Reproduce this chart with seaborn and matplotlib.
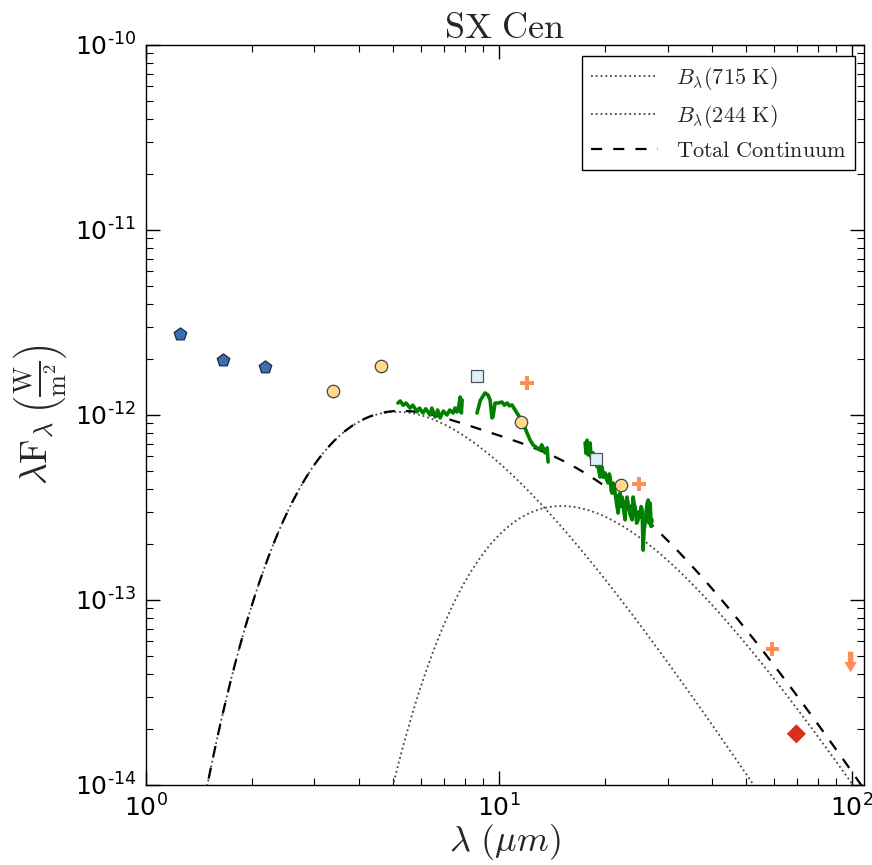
import numpy as np
import pandas as pd
import matplotlib
matplotlib.use("Agg")
import matplotlib.pyplot as plt
from matplotlib.path import Path
from matplotlib.font_manager import FontProperties
from matplotlib.ticker import FuncFormatter
import seaborn as sns

# ---------------- data ----------------
# 2MASS J, H, Ks
twomass_wl = [1.25, 1.65, 2.17]
twomass_flux = [2.74e-12, 1.98e-12, 1.82e-12]
# WISE W1-W4
wise_wl = [3.38, 4.63, 11.5, 22.2]
wise_flux = [1.35e-12, 1.84e-12, 9.2e-13, 4.19e-13]
# AKARI 9, 18
akari_wl = [8.67, 18.8]
akari_flux = [1.63e-12, 5.78e-13]
# IRAS 12, 25, 60 (detections) and 100 (upper limit)
iras_wl = [12.0, 24.9, 59.4]
iras_flux = [1.49e-12, 4.24e-13, 5.43e-14]
iras_ul_wl = [99.0]
iras_ul_flux = [4.62e-14]
# PACS 70
pacs_wl = [69.5]
pacs_flux = [1.89e-14]

# Spitzer IRS spectrum (three segments)
irs1_wl = [5.17, 5.25, 5.35, 5.45, 5.60, 5.70, 5.86, 5.95, 6.09, 6.20, 6.38, 6.45,
           6.59, 6.70, 6.81, 6.95, 7.12, 7.25, 7.41, 7.50, 7.60, 7.70, 7.76, 7.82, 7.86]
irs1_flux = [1.16e-12, 1.19e-12, 1.13e-12, 1.16e-12, 1.09e-12, 1.13e-12, 1.04e-12, 1.09e-12,
             1.025e-12, 1.08e-12, 1.0e-12, 1.09e-12, 9.76e-13, 1.064e-12, 9.64e-13, 1.05e-12,
             1.0e-12, 1.064e-12, 1.025e-12, 1.09e-12, 1.038e-12, 1.133e-12, 1.25e-12,
             1.025e-12, 1.205e-12]
irs2_wl = [8.66, 8.85, 9.12, 9.31, 9.43, 9.55, 9.61, 9.74, 9.93, 10.19, 10.35, 10.54,
           10.70, 10.88, 11.10, 11.47, 11.69, 12.00, 12.24, 12.48, 12.82, 13.06, 13.20,
           13.33, 13.50, 13.68, 13.77]
irs2_flux = [1.025e-12, 1.20e-12, 1.315e-12, 1.28e-12, 1.205e-12, 9.64e-13, 9.76e-13,
             1.16e-12, 1.16e-12, 1.175e-12, 1.13e-12, 1.16e-12, 1.12e-12, 1.133e-12,
             1.064e-12, 9.64e-13, 9.06e-13, 8.0e-13, 7.33e-13, 6.89e-13, 6.64e-13,
             6.47e-13, 6.9e-13, 6.64e-13, 6.24e-13, 6.64e-13, 5.57e-13]
irs3_wl = [17.52, 17.64, 17.76, 17.88, 18.0, 18.11, 18.22, 18.34, 18.46, 18.58, 18.70,
           18.82, 18.95, 19.07, 19.20, 19.32, 19.45, 19.57, 19.76, 19.96, 20.16, 20.36,
           20.50, 20.63, 20.77, 20.90, 21.04, 21.18, 21.32, 21.52, 21.73, 21.87, 22.01,
           22.15, 22.30, 22.52, 22.74, 22.89, 23.04, 23.19, 23.50, 23.81, 23.97, 24.13,
           24.29, 24.52, 24.76, 24.92, 25.09, 25.25, 25.42, 25.58, 25.75, 25.92, 26.09,
           26.26, 26.44, 26.62, 26.79, 26.95, 27.11]
irs3_flux = [7.06e-13, 6.2e-13, 7.3e-13, 6.08e-13, 6.7e-13, 7.06e-13, 5.9e-13, 5.71e-13,
             6.24e-13, 5.5e-13, 5.71e-13, 6.0e-13, 5.24e-13, 5.71e-13, 4.9e-13, 4.62e-13,
             5.3e-13, 5.24e-13, 4.6e-13, 4.86e-13, 4.5e-13, 4.29e-13, 4.8e-13, 4.62e-13,
             3.9e-13, 3.78e-13, 4.29e-13, 4.0e-13, 3.78e-13, 3.3e-13, 2.95e-13, 3.5e-13,
             3.78e-13, 3.2e-13, 3.60e-13, 3.1e-13, 2.71e-13, 3.4e-13, 3.60e-13, 3.34e-13,
             2.9e-13, 2.71e-13, 3.60e-13, 3.3e-13, 3.18e-13, 2.6e-13, 2.71e-13, 3.0e-13,
             2.81e-13, 3.2e-13, 3.06e-13, 1.86e-13, 2.4e-13, 2.61e-13, 3.0e-13, 3.34e-13,
             3.47e-13, 2.6e-13, 3.34e-13, 2.5e-13, 2.71e-13]

# blackbody components
bb_temps = [715, 244]
bb_peaks = [1.04e-12, 3.22e-13]

# ---------------- model curves ----------------
HC_K = 14387.77  # um K


def lam_blam(lam, T, peak):
    x = HC_K / (lam * T)
    f = x ** 4 / np.expm1(x)
    xs = np.linspace(0.5, 20, 20000)
    norm = np.max(xs ** 4 / np.expm1(xs))
    return peak * f / norm


lam_grid = np.logspace(0, np.log10(110), 600)
bb1 = lam_blam(lam_grid, bb_temps[0], bb_peaks[0])
bb2 = lam_blam(lam_grid, bb_temps[1], bb_peaks[1])
total = bb1 + bb2

# ---------------- plotting ----------------
sns.set_theme(style="ticks")
plt.rcParams["font.family"] = ["DejaVu Sans"]
plt.rcParams["mathtext.fontset"] = "dejavusans"
plt.rcParams["axes.unicode_minus"] = False
plt.rcParams["axes.edgecolor"] = "black"
plt.rcParams["axes.linewidth"] = 1.0

fig = plt.figure(figsize=(8.72, 8.65), dpi=100)
ax = fig.add_axes([0.1674, 0.0925, 0.8234, 0.8555])
ax.set_xscale("log")
ax.set_yscale("log")

sns.lineplot(x=lam_grid, y=bb1, ax=ax, color="#444444", linestyle=":", linewidth=1.3,
             label=r"$B_\lambda\mathrm{(715\ K)}$", sort=False)
sns.lineplot(x=lam_grid, y=bb2, ax=ax, color="#444444", linestyle=":", linewidth=1.3,
             label=r"$B_\lambda\mathrm{(244\ K)}$", sort=False)
sns.lineplot(x=lam_grid, y=total, ax=ax, color="black", linestyle=(0, (5, 5)), linewidth=1.6,
             label=r"$\mathrm{Total\ Continuum}$", sort=False)

irs = pd.DataFrame({
    "wl": irs1_wl + irs2_wl + irs3_wl,
    "flux": irs1_flux + irs2_flux + irs3_flux,
    "seg": [1] * len(irs1_wl) + [2] * len(irs2_wl) + [3] * len(irs3_wl),
})
sns.lineplot(data=irs, x="wl", y="flux", units="seg", estimator=None, sort=False,
             color="#008000", linewidth=2.6, ax=ax, legend=False)

sns.scatterplot(x=twomass_wl, y=twomass_flux, ax=ax, marker="p", s=90,
                color="#3b6db3", edgecolor="#1a2a40", linewidth=0.9, legend=False, zorder=5)
sns.scatterplot(x=wise_wl, y=wise_flux, ax=ax, marker="o", s=80,
                color="#fed98e", edgecolor="#444444", linewidth=0.9, legend=False, zorder=5)
sns.scatterplot(x=akari_wl, y=akari_flux, ax=ax, marker="s", s=75,
                color="#ddeff8", edgecolor="#555555", linewidth=0.9, legend=False, zorder=5)
sns.scatterplot(x=iras_wl, y=iras_flux, ax=ax, marker="P", s=90,
                color="#fc8d59", edgecolor="none", linewidth=0, legend=False, zorder=5)
arrow = Path([(-0.16, 0.6), (0.16, 0.6), (0.16, 0.0), (0.36, 0.0), (0.0, -0.6),
              (-0.36, 0.0), (-0.16, 0.0), (-0.16, 0.6)],
             [Path.MOVETO] + [Path.LINETO] * 6 + [Path.CLOSEPOLY])
sns.scatterplot(x=iras_ul_wl, y=iras_ul_flux, ax=ax, marker=arrow, s=220,
                color="#fc8d59", edgecolor="none", linewidth=0, legend=False, zorder=5)
sns.scatterplot(x=pacs_wl, y=pacs_flux, ax=ax, marker="D", s=95,
                color="#d7301f", edgecolor="none", linewidth=0, legend=False, zorder=5)

ax.set_xlim(1, 108)
ax.set_ylim(1e-14, 1e-10)


def pow10_label(v, pos):
    e = int(round(np.log10(v)))
    if e < 0:
        return r"$10^{\text{-}%d}$" % (-e)
    return r"$10^{%d}$" % e


ax.xaxis.set_major_formatter(FuncFormatter(pow10_label))
ax.yaxis.set_major_formatter(FuncFormatter(pow10_label))

ax.tick_params(which="both", direction="in", top=True, right=True, colors="black")
ax.tick_params(which="major", length=10, width=1.0, labelsize=18, pad=7)
ax.tick_params(which="minor", length=5, width=0.8)
for lab in ax.get_xticklabels() + ax.get_yticklabels():
    lab.set_math_fontfamily("dejavusans")

ax.set_xlabel(r"$\lambda\ (\mu m)$", fontsize=26, math_fontfamily="cm", labelpad=0)
ax.set_ylabel(r"$\lambda \mathrm{F}_\lambda\,\left(\frac{\mathrm{W}}{\mathrm{m}^2}\right)$",
              fontsize=27, math_fontfamily="cm", labelpad=4)
ax.set_title(r"$\mathrm{SX\ Cen}$", fontsize=26, math_fontfamily="cm", pad=5)

leg = ax.legend(loc="upper right", bbox_to_anchor=(0.988, 0.985), borderaxespad=0,
                fancybox=False, framealpha=1, edgecolor="black", handlelength=3.0,
                prop=FontProperties(size=16, math_fontfamily="cm"))
leg.get_frame().set_linewidth(1.0)

fig.savefig("out.png", dpi=100)
